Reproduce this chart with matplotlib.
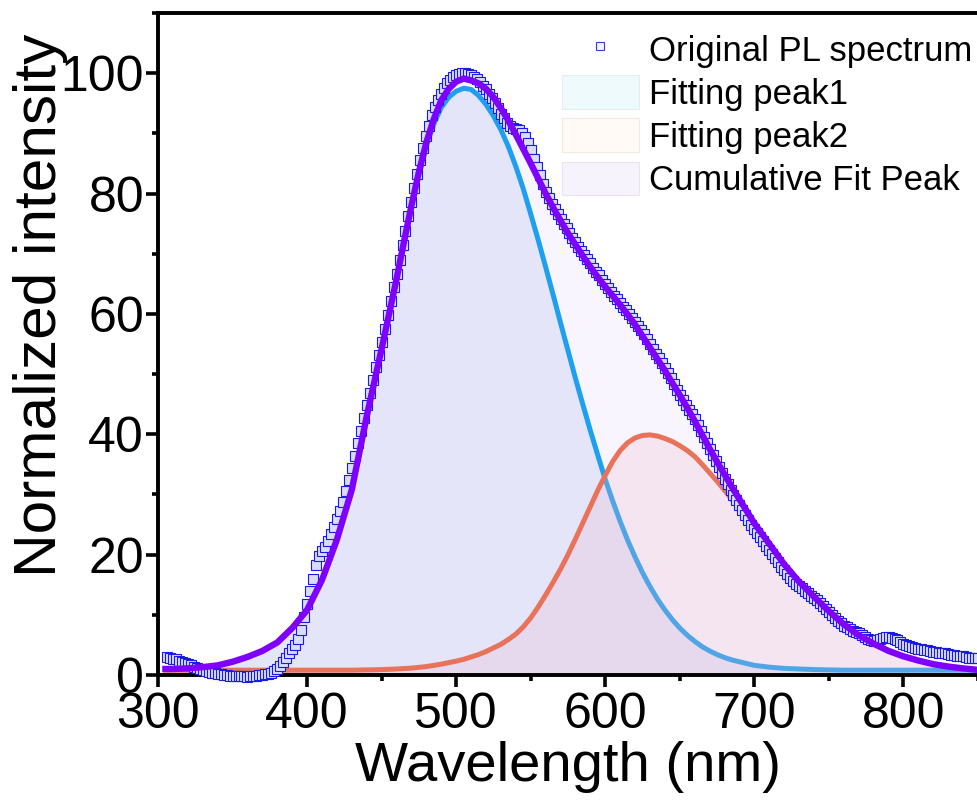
import numpy as np
import matplotlib
matplotlib.use("Agg")
import matplotlib.pyplot as plt
from matplotlib.ticker import MultipleLocator
from matplotlib.patches import Patch
from matplotlib.lines import Line2D

plt.rcParams['font.family'] = ['Liberation Sans', 'DejaVu Sans']

# measured PL spectrum, 2 nm steps
wl_data = np.arange(306, 851, 2)
pl_data = [
    3.0, 2.9, 2.7, 2.6, 2.4, 2.2, 2.0, 1.8, 1.6, 1.4,
    1.2, 1.0, 0.8, 0.6, 0.5, 0.4, 0.3, 0.2, 0.1, 0.0,
    0.0, -0.1, -0.1, -0.2, -0.2, -0.1, -0.2, -0.3, -0.2, -0.1,
    -0.1, 0.0, 0.0, 0.1, 0.2, 0.4, 0.7, 1.0, 1.5, 2.1,
    2.9, 3.7, 4.4, 5.0, 5.9, 7.5, 9.6, 11.8, 13.9, 16.0,
    18.3, 19.8, 20.6, 21.3, 22.2, 23.4, 24.6, 26.0, 27.3, 28.7,
    30.5, 32.4, 34.4, 36.4, 38.5, 40.6, 42.7, 44.8, 46.8, 49.0,
    51.1, 53.2, 55.3, 57.5, 59.8, 62.1, 64.4, 66.7, 69.0, 71.4,
    73.8, 76.2, 78.6, 81.0, 83.3, 85.5, 87.6, 89.5, 91.3, 93.0,
    94.4, 95.6, 96.6, 97.5, 98.3, 98.9, 99.4, 99.7, 99.9, 100.0,
    100.0, 99.9, 99.7, 99.4, 99.0, 98.5, 97.9, 97.3, 96.6, 95.8,
    95.0, 94.2, 93.3, 92.5, 91.8, 91.2, 90.9, 90.7, 90.5, 90.1,
    89.4, 88.4, 87.2, 85.8, 84.4, 83.0, 81.6, 80.3, 79.2, 78.3,
    77.4, 76.6, 75.8, 75.0, 74.2, 73.4, 72.6, 71.9, 71.2, 70.5,
    69.8, 69.1, 68.4, 67.7, 67.0, 66.4, 65.7, 65.0, 64.3, 63.7,
    63.0, 62.4, 61.8, 61.2, 60.6, 60.0, 59.4, 58.7, 58.0, 57.3,
    56.6, 55.8, 55.0, 54.2, 53.4, 52.6, 51.8, 51.0, 50.2, 49.3,
    48.3, 47.4, 46.5, 45.7, 44.9, 44.1, 43.3, 42.5, 41.6, 40.6,
    39.6, 38.6, 37.6, 36.6, 35.6, 34.6, 33.6, 32.6, 31.7, 30.8,
    29.9, 29.0, 28.2, 27.4, 26.6, 25.8, 25.0, 24.3, 23.6, 22.9,
    22.2, 21.5, 20.8, 20.1, 19.4, 18.7, 18.0, 17.4, 16.8, 16.2,
    15.7, 15.2, 14.8, 14.4, 14.0, 13.6, 13.2, 12.8, 12.4, 11.9,
    11.4, 10.9, 10.4, 9.9, 9.4, 9.0, 8.6, 8.2, 7.9, 7.6,
    7.3, 7.1, 6.9, 6.6, 6.3, 6.0, 5.8, 5.7, 5.8, 6.0,
    6.2, 6.3, 6.3, 6.2, 6.0, 5.8, 5.5, 5.2, 5.0, 4.8,
    4.6, 4.5, 4.4, 4.3, 4.2, 4.1, 4.0, 3.9, 3.8, 3.7,
    3.6, 3.6, 3.5, 3.4, 3.3, 3.2, 3.1, 3.1, 3.0, 2.9,
    2.9, 2.8, 2.8,
]

# fit curves (10 nm in the tails, 5 nm around the peaks)
wl_fit = [305, 310, 320, 330, 340, 350, 360, 370, 380, 390, 400, 410, 420, 430,
          440, 445, 450, 455, 460, 465, 470, 475, 480, 485, 490, 495, 500, 505,
          510, 515, 520, 525, 530, 535, 540, 545, 550, 555, 560, 565, 570, 575,
          580, 585, 590, 595, 600, 605, 610, 615, 620, 625, 630, 635, 640, 645,
          650, 655, 660, 665, 670, 675, 680, 685, 690, 695, 700,
          710, 720, 730, 740, 750, 760, 770, 780, 790, 800, 810, 820, 830, 840, 850]
peak1 = [1.0, 1.0, 1.1, 1.3, 1.6, 2.2, 3.0, 4.0, 5.4, 7.8, 10.8, 15.8, 22.5, 30.8,
         42.9, 48.5, 54.1, 59.8, 65.6, 71.7, 77.6, 83.0, 87.9, 91.6, 94.3, 96.0, 97.0, 97.5,
         97.3, 96.3, 94.8, 92.9, 90.6, 87.8, 84.5, 80.8, 76.6, 72.3, 67.8, 63.2, 58.5, 53.9,
         49.3, 44.9, 40.6, 36.5, 32.5, 28.9, 25.5, 22.4, 19.6, 17.0, 14.7, 12.6, 10.8, 9.2,
         7.8, 6.6, 5.6, 4.7, 4.0, 3.4, 2.9, 2.5, 2.2, 1.9, 1.6,
         1.3, 1.1, 1.0, 0.9, 0.85, 0.8, 0.8, 0.8, 0.8, 0.8, 0.8, 0.8, 0.8, 0.8, 0.8]
peak2 = [0.8, 0.8, 0.8, 0.8, 0.8, 0.8, 0.8, 0.8, 0.8, 0.8, 0.8, 0.8, 0.8, 0.8,
         0.85, 0.87, 0.9, 0.95, 1.0, 1.07, 1.15, 1.27, 1.4, 1.6, 1.8, 2.05, 2.3, 2.6,
         3.0, 3.4, 3.9, 4.5, 5.1, 5.9, 6.8, 8.0, 9.5, 11.3, 13.3, 15.4, 17.6, 20.0,
         22.6, 25.3, 28.0, 30.7, 33.2, 35.5, 37.3, 38.6, 39.4, 39.8, 39.9, 39.7, 39.3, 38.8,
         38.1, 37.3, 36.3, 35.0, 33.6, 32.2, 30.7, 29.2, 27.6, 26.0, 24.4,
         21.2, 18.1, 15.3, 12.8, 10.5, 8.4, 6.6, 5.2, 4.0, 3.1, 2.4, 1.8, 1.4, 1.1, 0.9]
cumulative = [1.0, 1.0, 1.1, 1.3, 1.6, 2.2, 3.0, 4.0, 5.4, 7.8, 10.8, 15.8, 22.5, 30.8,
              43.0, 48.6, 54.2, 60.0, 65.8, 72.0, 78.0, 83.6, 88.5, 92.4, 95.5, 97.4, 98.6, 99.1,
              98.8, 98.3, 97.4, 96.0, 94.2, 92.1, 89.8, 87.4, 85.0, 82.5, 80.0, 77.7, 75.5, 73.4,
              71.5, 69.6, 67.8, 66.1, 64.5, 63.0, 61.5, 59.9, 58.2, 56.3, 54.4, 52.5, 50.6, 48.5,
              46.5, 44.4, 42.2, 39.9, 37.6, 35.4, 33.3, 31.2, 29.2, 27.2, 25.2,
              21.8, 18.4, 15.5, 13.0, 10.6, 8.4, 6.6, 5.2, 4.0, 3.1, 2.4, 1.8, 1.4, 1.1, 0.85]

labels = ["Original PL spectrum", "Fitting peak1", "Fitting peak2", "Cumulative Fit Peak"]

fig = plt.figure(figsize=(9.78, 8.05), dpi=100)
ax = fig.add_axes([158/978, 130/805, 820/978, 662/805])

ax.fill_between(wl_fit, 0, cumulative, color='#f8f5fe', lw=0, zorder=1)
ax.fill_between(wl_fit, 0, peak1, color='#c6cfef', alpha=0.4, lw=0, zorder=1.1)
ax.plot(wl_fit, peak1, color='#1e9ff0', lw=3.6, zorder=2)
ax.fill_between(wl_fit, 0, peak2, color='#ecb9ce', alpha=0.25, lw=0, zorder=2.5)
ax.plot(wl_fit, peak2, color='#e8735a', lw=3.6, zorder=3)
ax.plot(wl_data, pl_data, ls='none', marker='s', ms=6.5, mfc='#d8dcf8',
        mec='#1a1ae6', mew=0.8, zorder=3.5, clip_on=False)
ax.plot(wl_fit, cumulative, color='#7f00ff', lw=4.6, zorder=4)

ax.set_xlim(300, 850)
ax.set_ylim(0, 110)
ax.xaxis.set_major_locator(MultipleLocator(100))
ax.xaxis.set_minor_locator(MultipleLocator(50))
ax.yaxis.set_major_locator(MultipleLocator(20))
ax.yaxis.set_minor_locator(MultipleLocator(10))
ax.tick_params(which='both', direction='out', width=2.6, top=False, right=False,
               labelsize=36)
ax.tick_params(which='major', length=8.5)
ax.tick_params(axis='y', which='major', pad=1.5)
ax.tick_params(axis='x', which='major', pad=4)
ax.tick_params(which='minor', length=4.5)
for s in ['left', 'bottom', 'top']:
    ax.spines[s].set_linewidth(2.8)
ax.spines['right'].set_visible(False)

ax.set_xlabel("Wavelength (nm)", fontsize=40.5, labelpad=2)
ax.set_ylabel("Normalized intensity", fontsize=43.5)
ax.yaxis.set_label_coords(-0.110, 0.559)

handles = [
    Line2D([], [], ls='none', marker='s', ms=5.5, mfc='#f4f4fd', mec='#3a3ae0', mew=0.8),
    Patch(facecolor='#effafd', edgecolor='#e2eef2', lw=0.8),
    Patch(facecolor='#fffaf5', edgecolor='#f2ebe4', lw=0.8),
    Patch(facecolor='#f6f3fd', edgecolor='#e8e4f2', lw=0.8),
]
ax.legend(handles, labels, loc='upper right', bbox_to_anchor=(0.993, 0.971),
          frameon=False, fontsize=25, handlelength=2.2, handleheight=1.1,
          handletextpad=0.3, labelspacing=0.22, borderaxespad=0, borderpad=0,
          numpoints=1)

fig.savefig("out.png", dpi=100)
